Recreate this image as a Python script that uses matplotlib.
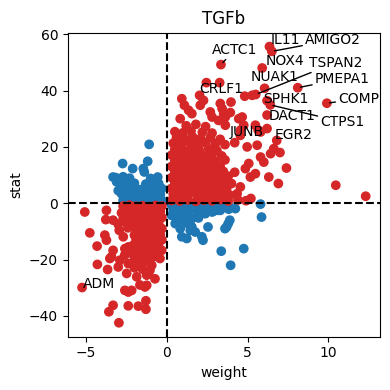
import numpy as np
import matplotlib
matplotlib.use("Agg")
import matplotlib.pyplot as plt

# labelled target genes (weight, stat)
genes = ["IL11", "AMIGO2", "ACTC1", "NOX4", "TSPAN2", "NUAK1", "PMEPA1", "COMP",
         "SPHK1", "CTPS1", "DACT1", "EGR2", "JUNB", "CRLF1", "ADM"]
gene_w = [6.35, 6.5, 3.35, 5.9, 5.5, 6.05, 8.1, 9.9, 6.2, 6.4, 6.2, 6.8, 5.65, 3.27, -5.24]
gene_s = [55.6, 53.9, 49.2, 48.0, 38.6, 40.8, 41.0, 35.5, 36.4, 34.9, 31.3, 22.3, 26.0, 42.8, -29.9]

# other targets, weight > 0 and stat > 0
pos_pos = [
    (0.3, 1.0), (0.8, 0.8), (1.3, 1.2), (1.8, 0.7), (2.3, 1.1), (2.8, 0.9), (3.3, 1.3), (3.8, 0.8),
    (4.4, 1.2), (4.9, 0.9), (5.2, 1.7),
    (0.4, 3.2), (0.9, 2.8), (1.4, 3.4), (1.9, 3.0), (2.4, 2.7), (2.9, 3.3), (3.4, 3.1), (3.9, 2.9),
    (4.35, 3.4),
    (0.3, 5.3), (0.7, 4.9), (1.2, 5.6), (1.7, 5.0), (2.2, 5.4), (2.7, 4.8), (3.2, 5.5), (3.7, 5.1),
    (4.55, 5.8),
    (0.5, 7.2), (1.0, 6.9), (1.5, 7.5), (2.0, 7.1), (2.5, 7.6), (3.0, 6.8), (3.5, 7.3), (4.0, 7.0),
    (0.3, 9.1), (0.8, 9.4), (1.3, 8.8), (1.8, 9.5), (2.3, 9.0), (2.8, 9.3), (3.3, 8.9), (3.8, 9.6),
    (5.17, 9.3), (6.31, 9.3),
    (0.5, 11.2), (1.0, 10.8), (1.5, 11.5), (2.0, 11.0), (2.5, 11.4), (3.0, 10.9), (3.5, 11.3),
    (4.2, 11.0), (5.48, 10.5),
    (0.3, 13.1), (0.8, 13.5), (1.3, 12.9), (1.8, 13.4), (2.3, 13.0), (2.8, 13.6), (3.3, 13.2),
    (4.86, 12.3),
    (0.5, 15.2), (1.0, 14.8), (1.5, 15.5), (2.0, 15.0), (2.5, 15.3), (3.0, 14.9), (3.6, 15.4),
    (5.07, 14.1), (6.0, 14.6),
    (0.3, 17.1), (0.8, 17.4), (1.3, 16.9), (1.8, 17.5), (2.3, 17.0), (2.8, 17.3), (3.4, 16.8),
    (5.8, 16.4), (6.42, 17.6),
    (0.5, 19.2), (1.0, 18.9), (1.5, 19.5), (2.0, 19.0), (2.6, 19.3), (3.1, 18.7), (4.97, 20.0),
    (6.62, 19.4),
    (0.4, 21.3), (0.9, 21.0), (1.4, 21.6), (1.9, 20.9), (2.4, 21.4), (3.0, 21.1), (3.6, 20.8),
    (4.2, 21.5),
    (0.6, 23.2), (1.1, 22.8), (1.6, 23.5), (2.1, 23.0), (2.7, 23.3), (3.3, 22.7), (4.55, 24.1),
    (0.5, 25.4), (1.0, 25.0), (1.5, 25.6), (2.2, 25.2), (2.8, 24.9), (3.62, 27.7), (4.55, 25.9),
    (5.8, 25.3), (6.2, 26.5),
    (0.83, 30.0), (1.2, 27.5), (1.8, 28.0), (2.4, 27.2), (3.2, 29.4), (4.45, 30.0), (4.76, 27.7),
    (5.48, 27.7), (5.59, 20.6),
    (1.09, 34.8), (1.35, 33.0), (1.55, 31.8), (2.07, 34.8), (2.27, 36.5), (2.03, 38.3), (0.93, 37.1),
    (2.69, 32.4), (2.8, 30.6), (3.31, 35.4), (3.42, 33.6), (3.52, 31.8), (3.62, 30.6), (3.97, 35.9),
    (3.93, 32.2), (4.66, 30.6), (4.82, 38.0), (5.28, 38.3), (2.45, 42.8),
    (7.0, 18.0), (7.4, 12.5), (6.9, 7.0), (10.45, 6.4), (12.3, 2.5),
]

# weight > 0 and stat < 0
pos_neg = [
    (0.3, -0.6), (0.8, -0.8), (1.3, -0.5), (1.8, -0.9), (2.3, -0.6), (2.8, -0.8), (3.3, -0.5),
    (3.8, -0.7), (4.24, -1.9), (3.83, -2.1), (3.31, -2.5), (5.8, -0.3), (5.86, -4.9),
    (0.4, -2.4), (0.9, -2.7), (1.4, -2.2), (1.9, -2.6), (2.4, -2.3), (2.9, -2.8),
    (0.3, -4.3), (0.8, -4.6), (1.3, -4.1), (1.8, -4.8), (2.38, -3.7), (2.8, -3.1), (3.2, -2.5),
    (1.96, -5.2), (0.72, -6.0), (0.52, -7.2), (0.9, -6.5), (1.45, -6.3), (1.2, -7.0),
    (0.83, -9.0), (0.93, -11.9), (1.24, -12.5), (1.45, -9.6), (1.55, -8.4), (1.76, -10.2),
    (2.55, -8.4), (2.17, -11.9), (2.24, -13.1), (3.37, -17.0), (3.95, -22.0), (4.76, -16.1),
    (3.6, -9.0), (3.7, -8.4), (3.8, -7.2), (3.9, -6.0),
]

# weight < 0 and stat > 0
neg_pos = [
    (-0.3, 1.0), (-0.7, 0.8), (-1.1, 1.2), (-1.5, 0.9), (-1.9, 1.1), (-2.3, 0.8), (-2.7, 1.0),
    (-0.4, 3.1), (-0.8, 2.9), (-1.2, 3.3), (-1.6, 2.8), (-2.0, 3.2), (-2.4, 3.0), (-2.8, 3.4),
    (-0.3, 5.2), (-0.7, 4.8), (-1.1, 5.4), (-1.5, 5.0), (-1.9, 5.3), (-2.3, 4.9), (-2.7, 5.2),
    (-3.0, 4.5),
    (-0.5, 7.0), (-0.9, 7.3), (-1.3, 6.8), (-2.0, 7.1), (-2.4, 6.8), (-2.8, 7.2), (-3.1, 7.6),
    (-1.0, 8.8), (-2.3, 8.9), (-2.7, 9.4), (-3.15, 9.1), (-3.32, 9.3),
    (-1.09, 20.9), (-2.73, 14.1), (-2.11, 12.3), (-1.18, 14.9), (-1.45, 12.3), (-1.39, 11.1),
    (-0.56, 9.3),
]

# weight < 0 and stat < 0
neg_neg = [
    (-0.3, -1.0), (-0.7, -0.8), (-1.1, -1.2), (-1.5, -0.9), (-1.9, -1.1), (-2.3, -0.7), (-2.7, -1.0),
    (-0.4, -3.0), (-0.8, -3.3), (-1.2, -2.8), (-1.6, -3.2), (-2.0, -2.9), (-2.4, -3.1), (-2.8, -3.4),
    (-3.73, -2.5), (-5.07, -3.1),
    (-0.3, -5.1), (-0.7, -4.8), (-1.1, -5.3), (-1.5, -5.0), (-1.9, -5.4), (-2.3, -4.9), (-2.7, -5.6),
    (-3.32, -6.0), (-3.77, -5.8),
    (-0.5, -7.1), (-0.9, -6.8), (-1.3, -7.3), (-1.7, -7.0), (-2.1, -7.4), (-2.5, -6.9), (-3.0, -7.5),
    (-0.3, -9.0), (-0.7, -9.3), (-1.1, -8.8), (-1.5, -9.4), (-1.9, -9.0), (-2.4, -8.7), (-2.94, -9.6),
    (-4.76, -10.5),
    (-0.4, -11.2), (-0.8, -10.9), (-1.2, -11.4), (-1.6, -11.0), (-2.0, -11.3), (-2.69, -11.9),
    (-3.83, -11.3),
    (-0.3, -13.0), (-0.7, -13.4), (-1.1, -12.9), (-1.5, -13.3), (-1.9, -13.1), (-3.73, -13.1),
    (-0.52, -14.9), (-0.9, -15.2), (-1.3, -14.8), (-1.7, -15.3), (-2.1, -15.0), (-2.38, -15.5),
    (-2.59, -16.1), (-4.31, -15.2), (-3.32, -16.7), (-0.31, -16.7),
    (-0.6, -17.2), (-1.0, -16.8), (-1.4, -17.4), (-1.8, -17.0), (-2.2, -17.6), (-2.6, -18.4),
    (-0.62, -18.4), (-0.83, -19.0), (-1.2, -19.3), (-1.6, -18.9), (-2.0, -19.5), (-3.52, -19.6),
    (-3.42, -19.0), (-2.9, -20.2), (-0.42, -19.6),
    (-0.93, -22.0), (-1.35, -20.8), (-1.7, -21.0), (-2.38, -21.4), (-3.0, -22.6), (-4.29, -21.7),
    (-1.14, -24.9), (-1.04, -23.8), (-1.5, -23.4), (-2.0, -22.9), (-2.48, -24.9), (-3.66, -23.5),
    (-1.86, -26.1), (-0.73, -26.8), (-1.24, -25.5),
    (-2.59, -30.9), (-2.38, -31.5), (-2.17, -30.9), (-1.66, -29.0), (-1.35, -29.7), (-1.24, -29.1),
    (-1.29, -34.6), (-1.29, -37.6), (-1.76, -36.5), (-2.38, -36.4), (-3.32, -36.2), (-3.58, -38.5),
    (-2.96, -42.4),
]

pts = np.array(neg_pos + pos_neg + pos_pos + neg_neg + list(zip(gene_w, gene_s)))
weight = pts[:, 0]
stat = pts[:, 1]
colors = np.where(weight * stat > 0, "#d62728", "#1f77b4")

fig, ax = plt.subplots(figsize=(3.9, 3.9), dpi=100)
fig.subplots_adjust(left=0.174, right=0.974, top=0.916, bottom=0.137)

ax.scatter(weight, stat, c=colors, s=36)
ax.axhline(0, color="black", ls="--", lw=1.5)
ax.axvline(0, color="black", ls="--", lw=1.5)

# where adjustText put the labels
label_pos = {
    "ACTC1": (2.81, 55.0), "IL11": (6.42, 58.5), "AMIGO2": (8.55, 58.5), "NOX4": (6.1, 51.0),
    "TSPAN2": (8.8, 50.4), "NUAK1": (5.17, 45.4), "PMEPA1": (9.16, 44.7), "COMP": (10.6, 37.6),
    "SPHK1": (5.98, 37.6), "CTPS1": (9.5, 29.4), "DACT1": (6.3, 31.6), "EGR2": (6.67, 24.8),
    "JUNB": (3.87, 25.9), "CRLF1": (2.0, 41.1), "ADM": (-5.2, -28.0),
}
with_line = ["ACTC1", "AMIGO2", "TSPAN2", "PMEPA1", "COMP", "CTPS1"]

for g, w, s in zip(genes, gene_w, gene_s):
    tx, ty = label_pos[g]
    if g in with_line:
        ax.annotate(g, xy=(w, s), xytext=(tx, ty), ha="left", va="center_baseline", fontsize=10,
                    arrowprops=dict(arrowstyle="-", color="black", lw=1, shrinkA=0, shrinkB=2))
    else:
        ax.text(tx, ty, g, ha="left", va="center_baseline", fontsize=10)

ax.set_title("TGFb")
ax.set_xlabel("weight")
ax.set_ylabel("stat")

plt.savefig("out.png", dpi=100)
